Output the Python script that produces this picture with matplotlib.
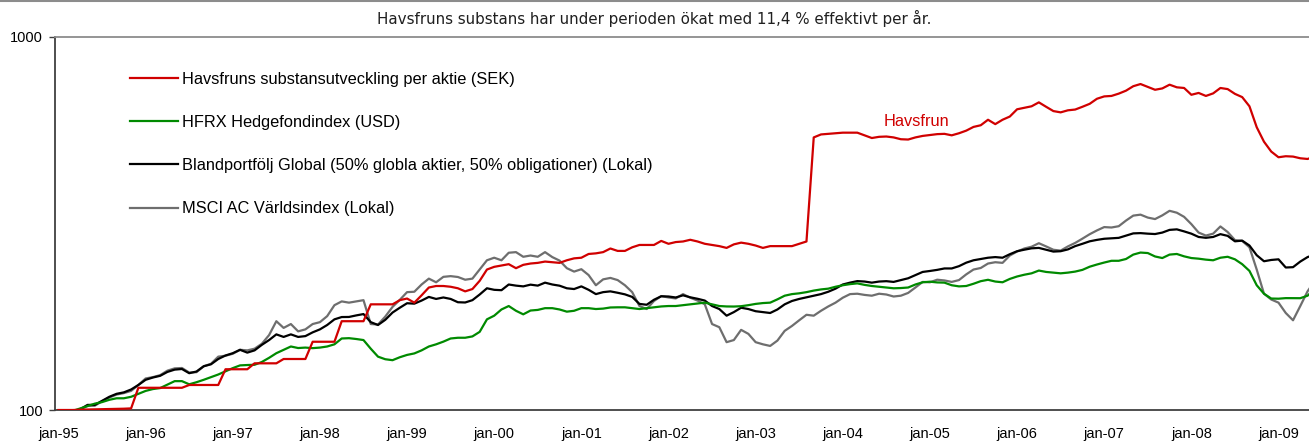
import numpy as np
import matplotlib
matplotlib.use("Agg")
import matplotlib.pyplot as plt
from matplotlib.lines import Line2D
from matplotlib.ticker import FixedLocator, NullLocator, FixedFormatter

TITLE = "Havsfruns substans har under perioden ökat med 11,4 % effektivt per år."

series_labels = [
    "Havsfruns substansutveckling per aktie (SEK)",
    "HFRX Hedgefondindex (USD)",
    "Blandportfölj Global (50% globla aktier, 50% obligationer) (Lokal)",
    "MSCI AC Världsindex (Lokal)",
]

# monthly index values, jan-95 .. jun-09
havsfrun = [
    100, 100, 100, 100.2, 100.3, 100.4, 100.5, 100.6, 100.7, 100.8, 101, 114.7,
    114.7, 114.7, 114.7, 114.7, 114.7, 114.7, 116.7, 116.7, 116.7, 116.7, 116.7, 128.6,
    128.6, 128.6, 128.6, 133.4, 133.4, 133.4, 133.4, 137, 137, 137, 137, 152.4,
    152.4, 152.4, 152.4, 173, 173, 173, 173, 192, 192, 192, 192, 197,
    199, 194, 203, 213, 215, 215, 214, 212, 208, 211, 222, 238,
    242, 244, 246, 240, 245, 247, 248, 250, 249, 248, 252, 255,
    256, 262, 263, 265, 271, 267, 267, 273, 277, 277, 277, 284,
    279, 282, 283, 286, 283, 279, 277, 275, 272, 278, 281, 279,
    276, 272, 275, 275, 275, 275, 279, 283, 538, 548, 550, 552,
    554, 554, 554, 545, 536, 540, 541, 538, 532, 531, 538, 543,
    546, 549, 550, 545, 552, 561, 574, 580, 600, 584, 600, 612,
    640, 646, 652, 668, 650, 633, 628, 636, 639, 650, 662, 683,
    693, 695, 705, 718, 738, 748, 735, 722, 728, 745, 733, 730,
    700, 708, 695, 706, 730, 725, 704, 690, 652, 573, 524, 493,
    476, 479, 478, 473, 471, 478,
]

hfrx = [
    99, 99, 99.5, 101, 102.5, 104, 105, 106.5, 107.5, 107.5, 108.5, 110.5,
    112.5, 113.8, 114.5, 117, 119.5, 119.5, 117.2, 118.7, 120.5, 122.5, 124.5, 127,
    129.5, 131.7, 132, 132.2, 134.5, 138, 142, 145, 148, 146.6, 147, 146.5,
    147, 148, 150, 155.5, 155.8, 155, 154, 146, 139, 136.8, 136, 138.5,
    140.5, 141.8, 144.5, 148, 150, 152.5, 155.5, 156.2, 156.2, 157.5, 162, 175,
    179, 186, 190, 184.5, 180.5, 184.8, 185.5, 187.5, 187.5, 186, 183.5, 184.5,
    187.5, 187.5, 186.5, 187, 188.3, 188.5, 188.5, 187.5, 186.5, 187.5, 188.5, 189.5,
    190, 190, 191, 192, 193, 194, 192, 190, 189.5, 189.4, 189.8, 191,
    192.5, 193.5, 194, 198, 202.5, 204.5, 205.5, 207, 209, 210.5, 211.5, 214,
    216, 217.5, 218.5, 216.5, 215, 214, 213, 212, 212.3, 213, 217, 220,
    220.8, 219.8, 219.5, 216, 214.5, 215, 218, 221.5, 223.4, 221, 220, 224.6,
    228, 230.5, 232.5, 236.5, 234.5, 233.5, 232.5, 233.5, 235, 237.5, 242.2, 245.5,
    248.5, 251.2, 251.2, 254, 261, 264.3, 263.5, 258, 255.5, 261, 262, 258.2,
    255.5, 254.5, 253, 252, 256, 257.5, 253.5, 246, 236, 216, 205, 199,
    198.8, 199.5, 199.4, 199.4, 202.5, 211,
]

blandportfolj = [
    99.5, 99.2, 98.6, 100.5, 103.2, 103.2, 105.8, 108.5, 110.5, 111.5, 113.5, 116.7,
    120.5, 122.2, 123.5, 126.5, 128.3, 128.8, 125.5, 126.8, 131, 132.6, 137, 140,
    142, 145, 142.5, 144.5, 149.5, 154, 159.5, 157, 159.5, 157, 157.8, 161.5,
    164.5, 169, 175, 177.5, 177.6, 179.3, 180.8, 172, 169, 174.5, 182.5, 188,
    193.3, 192.8, 196.5, 201, 198.5, 200.3, 198.5, 194.5, 194.2, 197, 204, 212,
    210, 209.5, 217, 215.5, 214.5, 216.8, 215.5, 219.5, 217, 215.4, 212, 211,
    214.5, 210, 204.5, 207, 208, 206.2, 204.2, 201, 192.5, 191.5, 197.5, 201.8,
    201.5, 200.3, 203, 200.5, 198.7, 196.5, 190, 186.5, 179, 183, 188, 186.5,
    184, 183, 182, 186, 192, 196, 198.5, 200.5, 202.5, 204.5, 207.5, 211.5,
    217, 219.5, 221.6, 221, 219.5, 221, 221.5, 220.5, 223, 225.5, 230, 234.5,
    235.9, 237.5, 239.6, 239.6, 243, 248.3, 252, 254, 256, 257, 256, 261.6,
    266.5, 269, 271.3, 272, 269, 265.9, 266.5, 269.5, 275, 279, 283.3, 285.8,
    287.8, 288.5, 289.4, 293.5, 297.5, 298, 297, 296.3, 299, 304, 305, 301.2,
    297, 291, 289.5, 291, 296.1, 293, 283.3, 284.5, 276, 260, 250.5, 252.5,
    253.5, 241, 241.5, 250, 257, 261,
]

msci_acwi = [
    98.3, 98, 98.2, 100.3, 102.5, 102.7, 105.5, 108, 110, 111, 112.5, 116.7,
    121.5, 122.5, 124, 127.5, 129.3, 129.6, 126, 126.3, 131, 133, 139, 139.8,
    141.5, 145, 144.5, 146, 150.5, 158.8, 173, 166, 170, 162.5, 164.5, 170,
    172, 178.5, 191, 195.5, 194, 195.5, 197, 170, 169.5, 178, 189, 197.4,
    207, 207.5, 217, 225, 220, 227.5, 228.5, 227.3, 223.5, 225, 238, 252,
    256, 252, 264, 265, 257.5, 259.5, 257.5, 265, 257, 251.5, 240, 235,
    238.5, 230, 216, 224, 226, 223, 216, 207, 190, 186.5, 196, 202,
    200.3, 199.1, 204.5, 200, 196.5, 192, 170, 166.7, 152, 154, 164, 160,
    152, 150, 148.5, 153.5, 163, 168, 174, 180, 179, 184.5, 189.5, 194,
    200, 204.5, 205, 203.5, 202.5, 205, 204, 201.5, 202.5, 206, 213, 220.5,
    220, 223.5, 222.5, 220.5, 223, 231, 238, 240.3, 247, 249, 248, 259.5,
    266, 271, 274, 280, 274.5, 268.9, 267.5, 274.5, 280.5, 288, 296, 303,
    309.3, 308.5, 311, 322, 332, 334, 328, 325, 332.5, 342, 338, 329.5,
    315, 299, 293.5, 297, 310.5, 300, 285.5, 284, 273, 238, 205, 197.8,
    194, 182, 174, 190, 208, 222,
]

tick_labels = ["jan-95", "jan-96", "jan-97", "jan-98", "jan-99", "jan-00", "jan-01",
               "jan-02", "jan-03", "jan-04", "jan-05", "jan-06", "jan-07", "jan-08",
               "jan-09"]

months = np.arange(len(havsfrun))

plt.rcParams["font.family"] = ["Liberation Sans", "DejaVu Sans"]

fig = plt.figure(figsize=(13.09, 4.41), dpi=100)
ax = fig.add_axes([55 / 1309, 31 / 441, 1254 / 1309, 373 / 441])

l_gray, = ax.plot(months, msci_acwi, color="#6e6e6e", lw=1.6, zorder=2)
l_black, = ax.plot(months, blandportfolj, color="black", lw=1.6, zorder=3)
l_green, = ax.plot(months, hfrx, color="#008a00", lw=1.6, zorder=3)
l_red, = ax.plot(months, havsfrun, color="#d00000", lw=1.6, zorder=4)

ax.set_yscale("log")
ax.set_ylim(100, 1000)
ax.set_xlim(-0.48, 172.2)
ax.yaxis.set_major_locator(FixedLocator([100, 1000]))
ax.yaxis.set_major_formatter(FixedFormatter(["100", "1000"]))
ax.yaxis.set_minor_locator(NullLocator())
ax.set_xticks(np.arange(len(tick_labels)) * 12)
ax.set_xticklabels(tick_labels)
ax.tick_params(axis="x", length=0, pad=12, labelsize=10.5)
ax.tick_params(axis="y", length=4, width=1, color="#404040", pad=4.5, labelsize=10.5)

for side in ("left", "bottom"):
    ax.spines[side].set_color("#404040")
    ax.spines[side].set_linewidth(1.3)
ax.spines["top"].set_color("#8c8c8c")
ax.spines["top"].set_linewidth(1.3)
ax.spines["right"].set_visible(False)

ax.legend(handles=[l_red, l_green, l_black, l_gray], labels=series_labels,
          loc="upper left", bbox_to_anchor=(0.0598, 0.907), frameon=False,
          fontsize=11.8, handlelength=2.9, handletextpad=0.28, labelspacing=1.72,
          borderpad=0, borderaxespad=0)

ax.text(113.6, 595, "Havsfrun", color="#d00000", fontsize=11.8, ha="left", va="center")

fig.text(0.5, 1 - 18 / 441, TITLE, ha="center", va="center", fontsize=10.9,
         family="DejaVu Sans", color="#202020")
fig.add_artist(Line2D([0, 1], [0.998, 0.998], color="#8c8c8c", lw=1.5))

fig.savefig("out.png", dpi=100)
